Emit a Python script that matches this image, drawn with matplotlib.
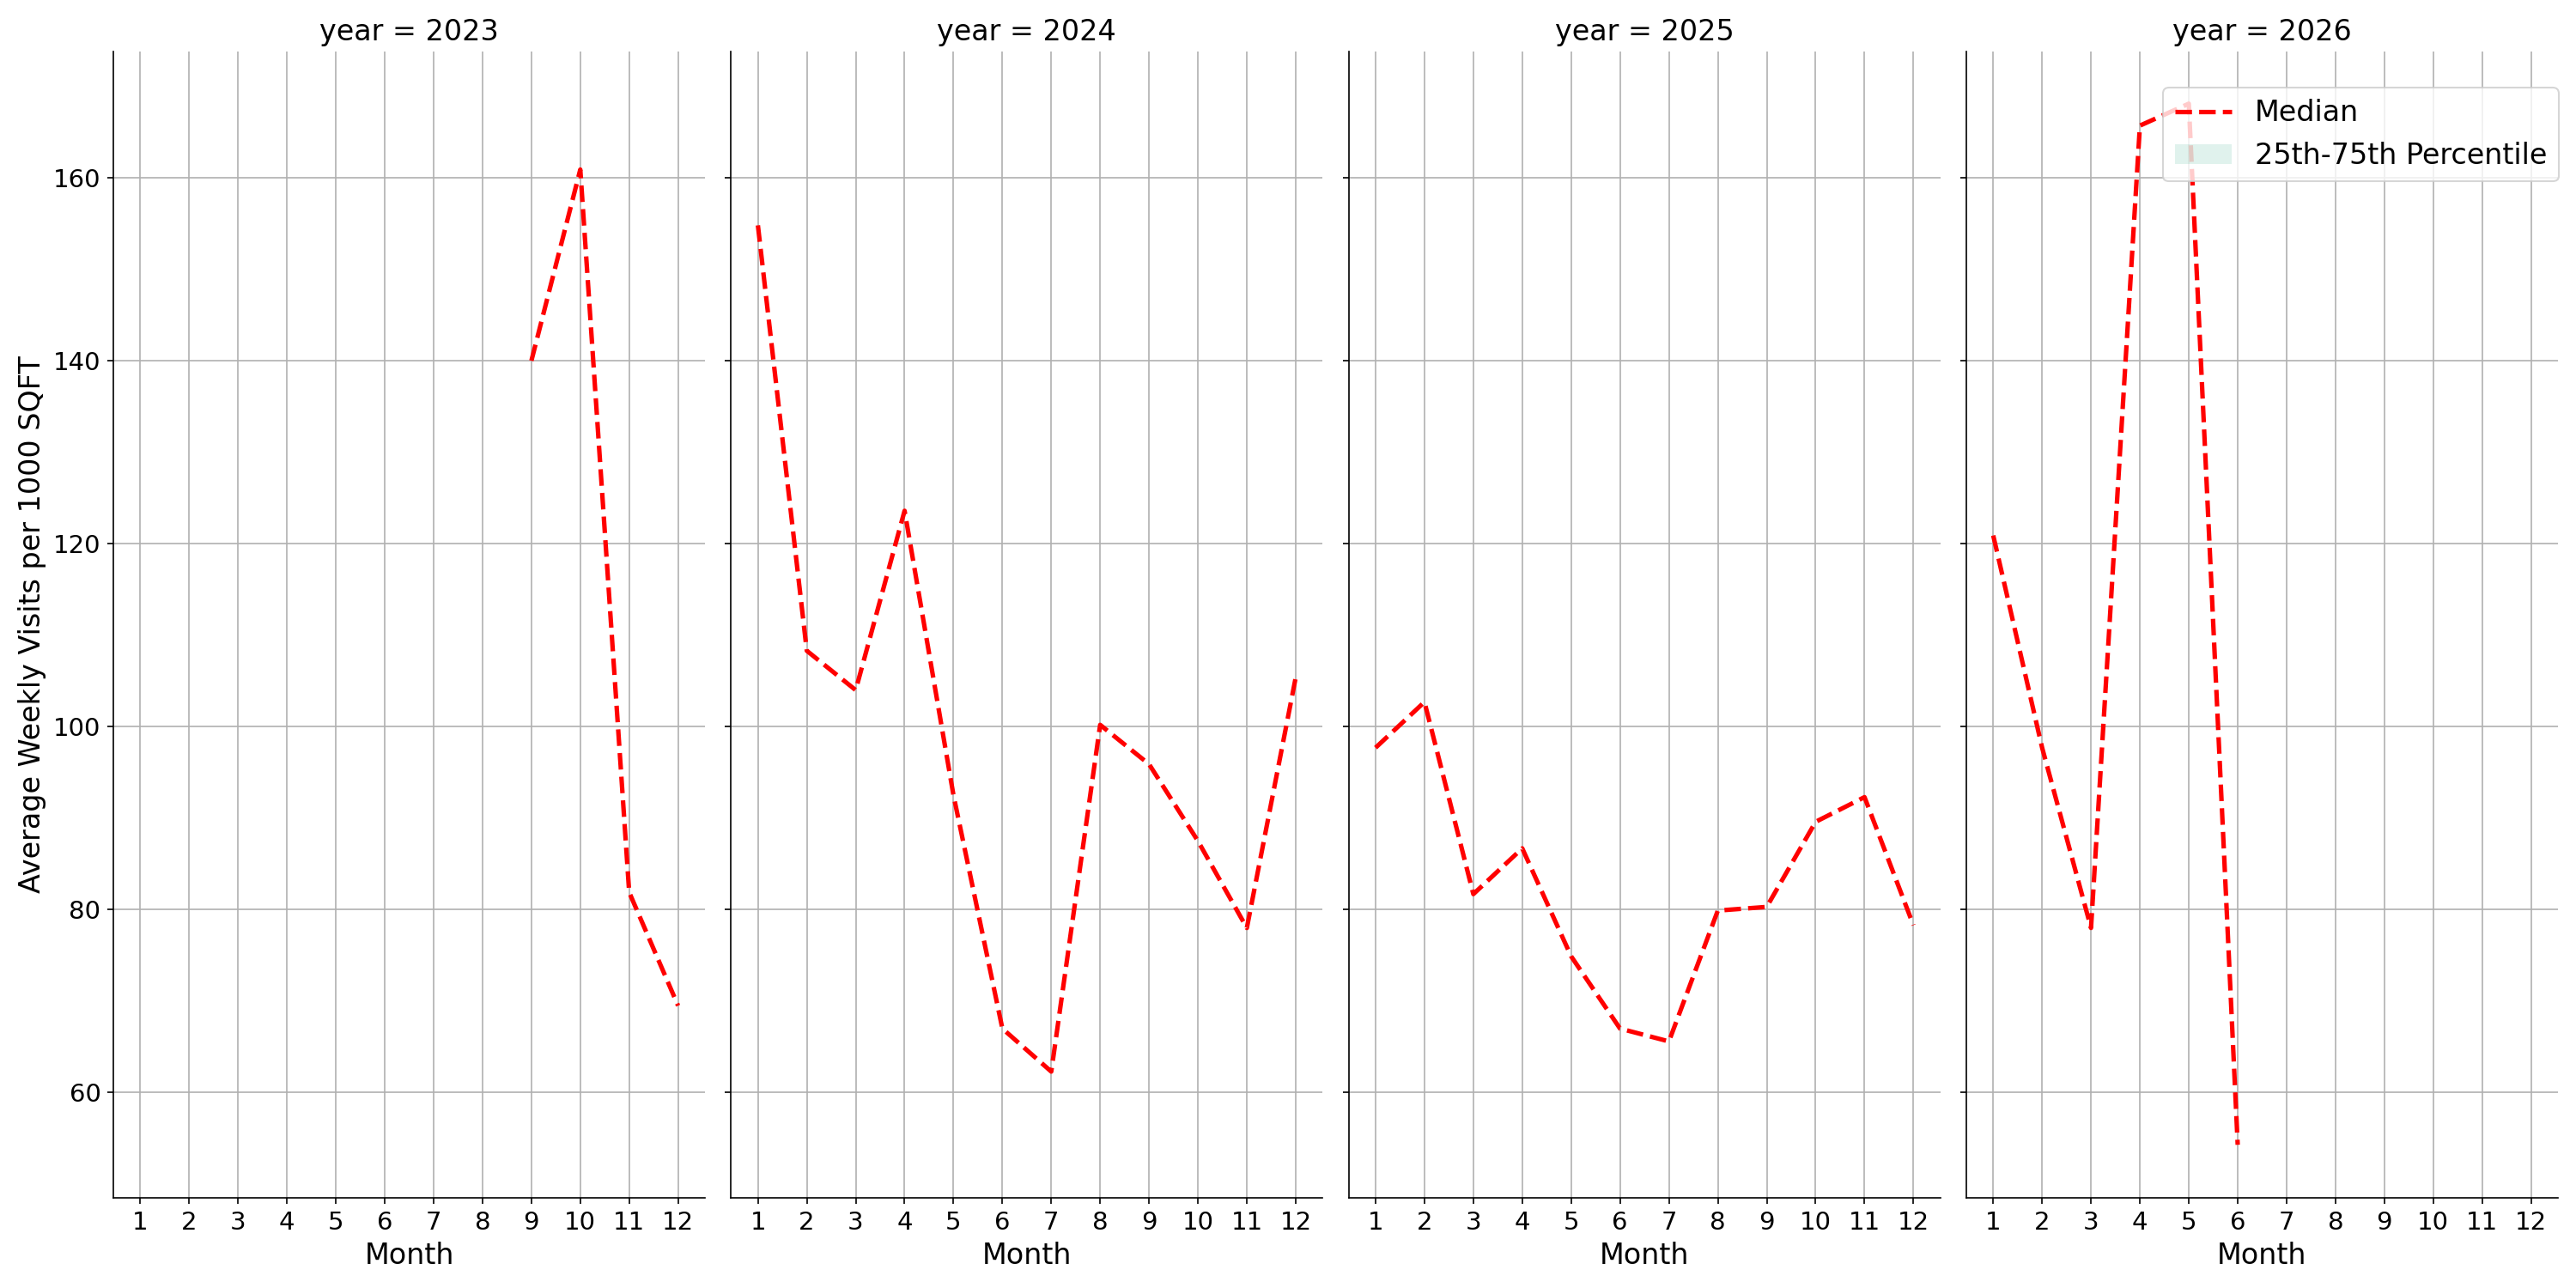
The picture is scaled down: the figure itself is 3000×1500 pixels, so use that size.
import matplotlib
matplotlib.use("Agg")
import matplotlib.pyplot as plt
import numpy as np

months = list(range(1, 13))
years = [2023, 2024, 2025, 2026]

median_2023 = [np.nan]*8 + [140.0, 160.9, 81.9, 69.5]
median_2024 = [154.8, 108.3, 104.0, 123.6, 92.5, 67.0, 62.3, 100.2, 95.9, 87.5, 78.0, 105.4]
median_2025 = [97.7, 102.7, 81.7, 86.7, 74.9, 67.0, 65.6, 79.9, 80.3, 89.6, 92.3, 78.3]
median_2026 = [120.9, 97.7, 78.0, 165.7, 168.1, 54.3] + [np.nan]*6

# percentile band equals median (single observation per month)
q25 = {2023: median_2023, 2024: median_2024, 2025: median_2025, 2026: median_2026}
q75 = {2023: median_2023, 2024: median_2024, 2025: median_2025, 2026: median_2026}
medians = {2023: median_2023, 2024: median_2024, 2025: median_2025, 2026: median_2026}

fig, axes = plt.subplots(1, 4, figsize=(20, 10), dpi=150, sharey=True)
fig.subplots_adjust(left=0.044, right=0.993, top=0.960, bottom=0.070, wspace=0.044)

for ax, yr in zip(axes, years):
    m = np.array(medians[yr], dtype=float)
    ax.fill_between(months, q25[yr], q75[yr], color='#66c2a5', alpha=0.2,
                    linewidth=0, label='25th-75th Percentile')
    ax.plot(months, m, color='red', linestyle='--', linewidth=2.5, label='Median')
    ax.set_title(f"year = {yr}", fontsize=16)
    ax.set_xlabel("Month", fontsize=16)
    ax.set_xticks(months)
    ax.set_xlim(0.45, 12.55)
    ax.tick_params(labelsize=14)
    ax.grid(True, color='#b0b0b0', linewidth=0.8)
    ax.set_axisbelow(True)
    for s in ['top', 'right']:
        ax.spines[s].set_visible(False)

axes[0].set_ylabel("Average Weekly Visits per 1000 SQFT", fontsize=16)
axes[0].set_ylim(48.5, 173.8)

h, l = axes[-1].get_legend_handles_labels()
order = [l.index('Median'), l.index('25th-75th Percentile')]
axes[-1].legend([h[i] for i in order], [l[i] for i in order], loc='upper right',
                bbox_to_anchor=(1.025, 0.981), fontsize=16)

fig.savefig("out.png", dpi=150)
